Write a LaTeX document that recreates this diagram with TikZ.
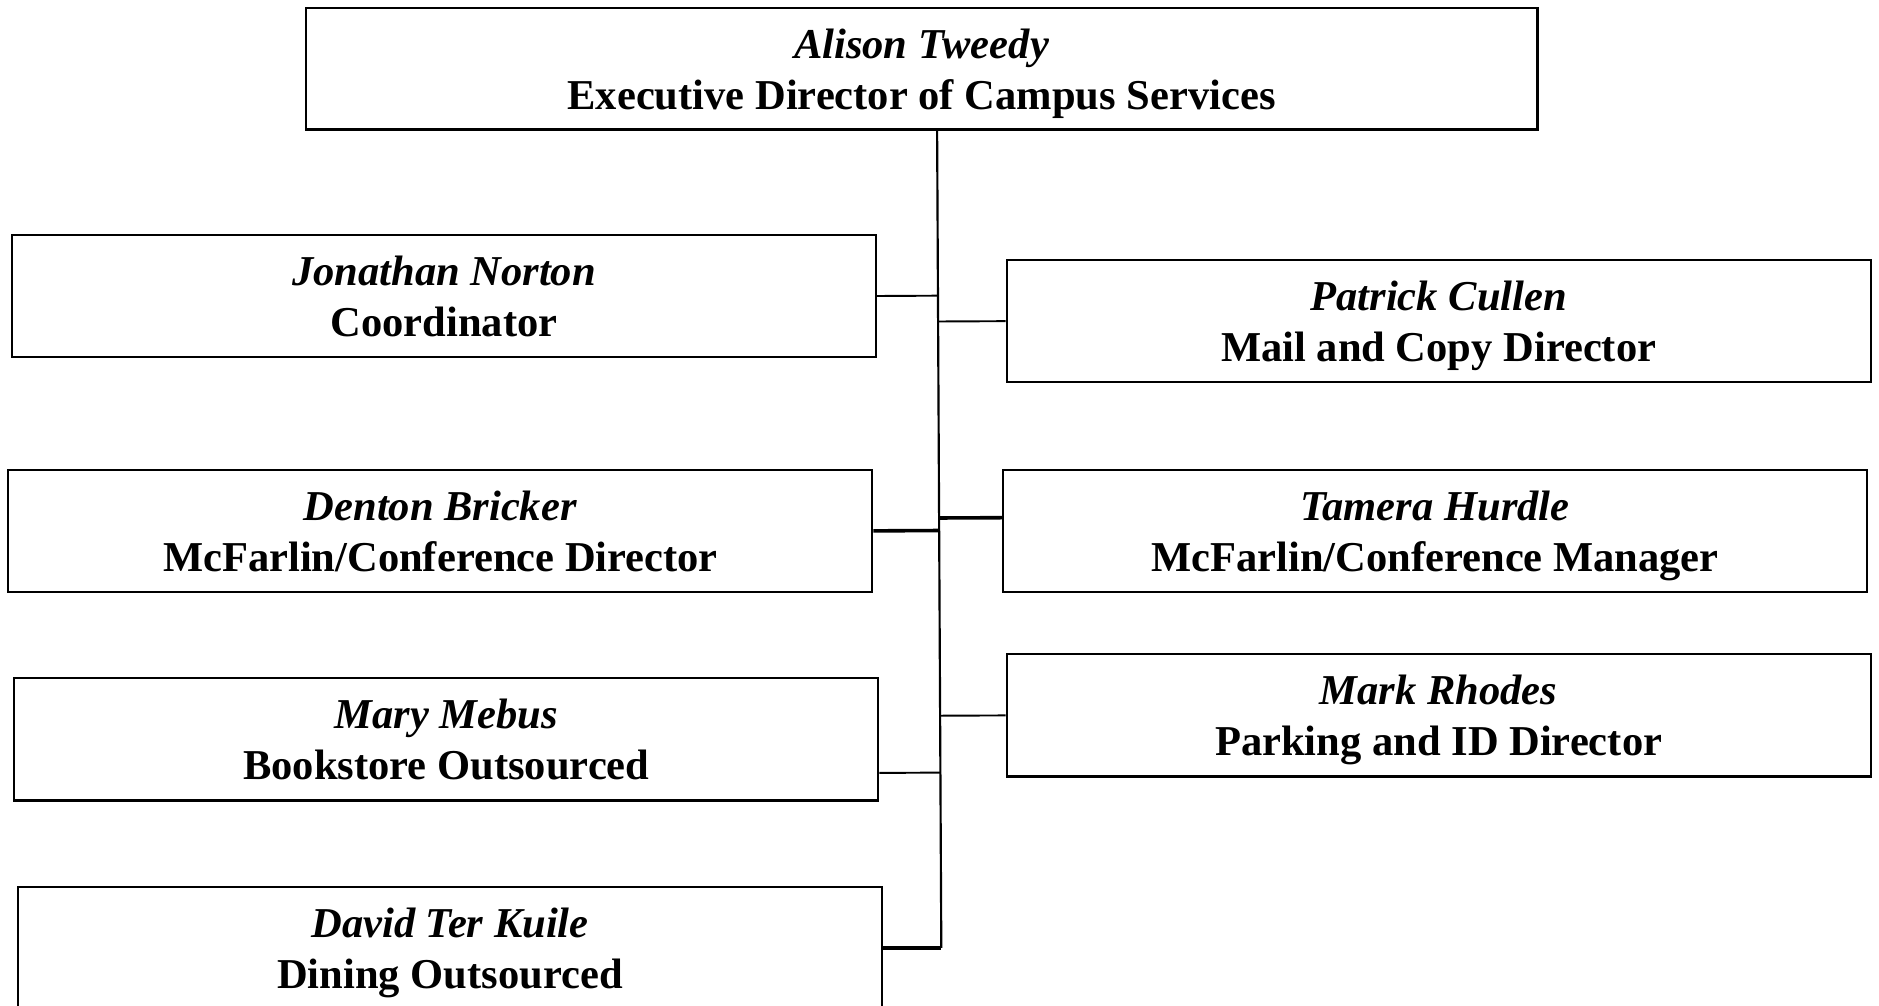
\documentclass[tikz,border=0pt]{standalone}
\usepackage{fontspec}
\setmainfont{Liberation Serif}
\usetikzlibrary{calc}
\usetikzlibrary{positioning}

\tikzset{
  post/.style={draw=black, line width=1.8pt, minimum width=721pt, minimum height=102pt,
               inner sep=0pt, align=center, font=\fontsize{35.5}{42.5}\selectfont\bfseries},
  link/.style={black, line width=1.6pt},
  heavylink/.style={black, line width=3pt},
}
\newcommand{\postname}[2]{\rule{0pt}{34.5pt}\textit{#1}\\#2\rule[-10pt]{0pt}{10pt}}

\begin{document}
\begin{tikzpicture}[x=1pt, y=-1pt]
            % Frame to fix the page
            \useasboundingbox (0,0) rectangle (1568,838.7);
            % Head
            \node[post, minimum width=1028pt, minimum height=101pt] (boss) at ( 769.0,  57.5) {\postname{Alison Tweedy}{Executive Director of Campus Services}};
            % Left column
            \node[post] (jon) at ( 370.5, 247.0) {\postname{Jonathan Norton}{Coordinator}};
            \node[post] (den) at ( 367.5, 443.0) {\postname{Denton Bricker}{McFarlin/Conference Director}};
            \node[post] (mar) at ( 372.5, 617.0) {\postname{Mary Mebus}{Bookstore Outsourced}};
            \node[post] (dav) at ( 375.5, 791.0) {\postname{David Ter Kuile}{Dining Outsourced}};
            % Right column
            \node[post] (pat) at (1200.5, 268.0) {\postname{Patrick Cullen}{Mail and Copy Director}};
            \node[post] (tam) at (1197.5, 443.0) {\postname{Tamera Hurdle}{McFarlin/Conference Manager}};
            \node[post] (mrk) at (1200.5, 597.0) {\postname{Mark Rhodes}{Parking and ID Director}};
            % Trunk
            \coordinate (trunktop) at ([xshift=13pt]boss.south);
            \coordinate (trunkend) at (785.5, 791.0);
            \draw[line width=1.8pt] (trunktop) -- (trunkend);
            % Branches
            \coordinate (tamjoin) at ([yshift=11pt]tam.west);
            \coordinate (marjoin) at ([yshift=-28pt]mar.east);
            \draw[link]      (jon.east) -- ($(trunktop)!(jon.east)!(trunkend)$);
            \draw[heavylink] (den.east) -- ($(trunktop)!(den.east)!(trunkend)$);
            \draw[link]      (marjoin)  -- ($(trunktop)!(marjoin)!(trunkend)$);
            \draw[heavylink] (dav.east) -- (trunkend);
            \draw[link]      (pat.west) -- ($(trunktop)!(pat.west)!(trunkend)$);
            \draw[heavylink] (tamjoin)  -- ($(trunktop)!(tamjoin)!(trunkend)$);
            \draw[link]      (mrk.west) -- ($(trunktop)!(mrk.west)!(trunkend)$);
\end{tikzpicture}
\end{document}
